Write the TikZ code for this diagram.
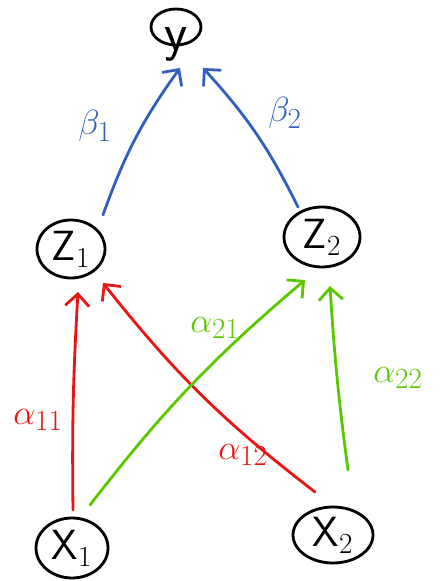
\documentclass[tikz,border=0pt]{standalone}
\usepackage{tikz}
\usetikzlibrary{shapes.geometric,arrows.meta,calc}
\definecolor{bleu}{RGB}{50,95,190}
\definecolor{rouge}{RGB}{235,20,20}
\definecolor{vert}{RGB}{90,200,0}
\tikzset{
    noeud/.style={draw,ellipse,line width=2pt,inner sep=0pt,font=\fontsize{30}{32}\selectfont\sffamily},
    fleche/.style={line width=2pt,line cap=round,-{Straight Barb[length=3mm,width=6mm,line width=2pt]}},
    poids/.style={font=\fontsize{32}{34}\selectfont},
  }
\begin{document}
\begin{tikzpicture}
				  \useasboundingbox (0,0) rectangle (11.05,14.525);
				  %NOEUDS
				  \node[noeud,minimum width=1.25cm,minimum height=0.9cm,font=\fontsize{38}{40}\selectfont\sffamily] (Y) at (4.40,13.85) {\raisebox{-0.58cm}[0pt][0pt]{y}};
				  \node[noeud,minimum width=1.7cm,minimum height=1.45cm] (Z1) at (1.775,8.30) {Z$_1$};
				  \node[noeud,minimum width=1.9cm,minimum height=1.5cm] (Z2) at (8.05,8.60) {Z$_2$};
				  \node[noeud,minimum width=1.8cm,minimum height=1.5cm] (X1) at (1.80,0.825) {X$_1$};
				  \node[noeud,minimum width=2.0cm,minimum height=1.4cm] (X2) at (8.325,1.15) {X$_2$};
				  %BETA Z -> Y
				  \draw[fleche,bleu] ($(Z1)+(0.8,0.85)$) to[bend left=8] ($(Y)+(0.1,-1.025)$);
				  \draw[fleche,bleu] ($(Z2)+(-0.6,0.75)$) to[bend right=8] ($(Y)+(0.675,-1.025)$);
				  %ALPHA X -> Z
				  \draw[fleche,rouge] ($(X1)+(0.025,0.95)$) to[bend left=2] ($(Z1)+(0.175,-1.075)$);
				  \draw[fleche,rouge] ($(X2)+(-0.45,1.075)$) to[bend left=7] ($(Z1)+(0.8,-0.85)$);
				  \draw[fleche,vert] ($(X1)+(0.45,1.075)$) to[bend left=6] ($(Z2)+(-0.425,-1.075)$);
				  \draw[fleche,vert] ($(X2)+(0.375,1.625)$) to[bend left=2] ($(Z2)+(0.2,-1.225)$);
				  %POIDS
				  \node[poids,bleu] (b1) at (2.375,11.375) {$\beta_1$};
				  \node[poids,bleu] (b2) at (7.125,11.70) {$\beta_2$};
				  \node[poids,rouge] (a11) at (0.95,4.025) {$\alpha_{11}$};
				  \node[poids,rouge] (a12) at (6.075,3.15) {$\alpha_{12}$};
				  \node[poids,vert] (a21) at (5.375,6.325) {$\alpha_{21}$};
				  \node[poids,vert] (a22) at (9.95,5.075) {$\alpha_{22}$};
\end{tikzpicture}
\end{document}
